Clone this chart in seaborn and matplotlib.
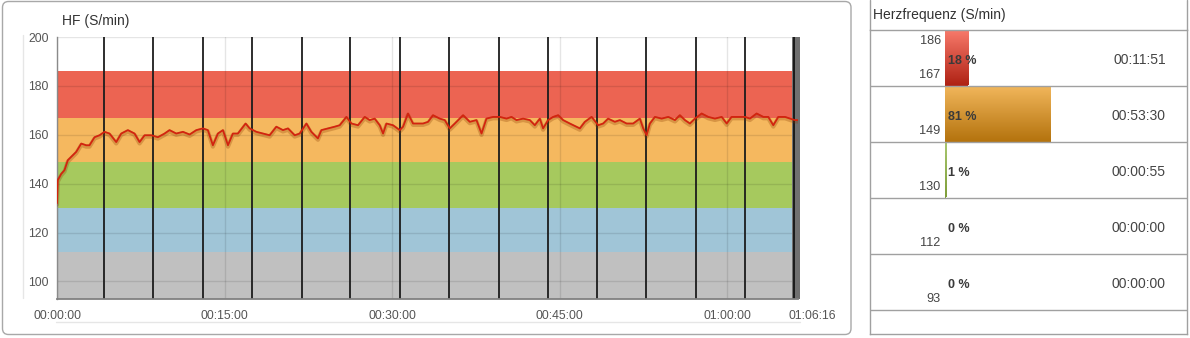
import numpy as np
import pandas as pd
import matplotlib
matplotlib.use("Agg")
import matplotlib.pyplot as plt
import matplotlib.patheffects as pe
from matplotlib.patches import FancyBboxPatch
from matplotlib.lines import Line2D
from matplotlib.transforms import ScaledTranslation
from matplotlib.colors import LinearSegmentedColormap
import seaborn as sns

# ---- heart-rate trace (minutes, beats/min) ----
time_min = [0.0, 0.07, 0.38, 0.67, 0.97, 1.41, 1.72, 2.17, 2.61, 2.91, 3.36, 3.81, 4.25,
            4.70, 5.30, 5.75, 6.34, 6.94, 7.39, 7.84, 8.44, 9.03, 9.63, 10.07, 10.67,
            11.27, 11.87, 12.47, 13.06, 13.50, 13.95, 14.40, 14.85, 15.30, 15.74, 16.19,
            16.88, 17.24, 17.84, 18.43, 19.03, 19.63, 20.22, 20.67, 21.27, 21.72, 22.32,
            22.76, 23.35, 23.66, 24.25, 24.85, 25.30, 25.90, 26.35, 26.94, 27.54, 27.98,
            28.43, 28.88, 29.18, 29.48, 30.07, 30.67, 30.97, 31.41, 31.86, 32.31, 32.76,
            33.21, 33.65, 34.25, 34.70, 35.15, 35.60, 36.34, 36.94, 37.54, 37.99, 38.43,
            39.03, 39.63, 40.23, 40.67, 41.12, 41.71, 42.31, 42.76, 43.21, 43.50, 43.95,
            44.40, 44.85, 45.29, 45.89, 46.49, 46.79, 47.24, 47.84, 48.43, 48.88, 49.32,
            49.92, 50.37, 50.97, 51.56, 52.16, 52.46, 52.76, 53.06, 53.51, 54.11, 54.70,
            55.30, 55.74, 56.19, 56.64, 57.09, 57.69, 58.28, 58.88, 59.48, 59.93, 60.37,
            60.97, 61.57, 62.01, 62.61, 63.21, 63.65, 64.10, 64.55, 65.15, 65.60, 66.04,
            66.27]
hr = [132, 141.4, 144, 145.5, 149.6, 151.6, 153, 156.4, 155.7, 155.7, 159, 159.8, 161.2,
      160.5, 157, 160.5, 161.9, 160.5, 157, 159.8, 159.8, 159, 160.5, 161.9, 160.5,
      161.2, 160.1, 161.9, 162.6, 161.9, 155.7, 160.5, 161.9, 155.7, 160.5, 160.5,
      164.6, 162.6, 161.2, 160.5, 159.8, 163.3, 161.9, 162.6, 159.8, 160.5, 164.6,
      161.2, 158.5, 161.9, 162.6, 163.3, 163.9, 167.3, 164.6, 163.9, 167.3, 166,
      166.6, 163.9, 160.5, 164.6, 163.9, 161.9, 163.3, 168.7, 164.6, 164.6, 164.6,
      165.3, 168, 166.6, 166, 162.6, 164.6, 168, 165.3, 166, 160.5, 166.6,
      167.3, 167.3, 166.6, 167.3, 166, 166.6, 166, 163.9, 166.6, 162.6, 166,
      167.3, 168, 166, 164.6, 163.3, 162.6, 165.3, 167.3, 163.9, 164.6, 166.6,
      165.3, 166, 164.6, 164.6, 166.6, 162.6, 159.8, 164.6, 167.3, 166.6, 167.3,
      166, 168, 166, 164.6, 166.6, 168.7, 167.3, 166.6, 167.3, 164.6, 167.3,
      167.3, 167.3, 166.6, 168.7, 167.3, 167.3, 163.9, 167.3, 167.3, 166.6, 166,
      166]

# lap markers (seconds) and total duration
lap_sec = [251, 518, 783, 1047, 1317, 1575, 1840, 2104, 2372, 2637, 2902, 3164, 3429, 3692, 3957]
total_sec = 3976

# heart-rate zones (bottom to top)
zone_bounds = [93, 112, 130, 149, 167, 186]
zone_colors = ["#c0c0c0", "#a0c5d7", "#a6c95e", "#f5b85f", "#ec6452"]

# zone summary table (top zone first)
zone_names = ["167-186", "149-167", "130-149", "112-130", "93-112"]
zone_pct = [18, 81, 1, 0, 0]
zone_time = ["00:11:51", "00:53:30", "00:00:55", "00:00:00", "00:00:00"]
grad_top = ["#f97b6c", "#f2b75c", "#a9c870", "#cccccc", "#cccccc"]
grad_bottom = ["#b02315", "#b5740f", "#7f9e3a", "#999999", "#999999"]

x_ticks_sec = [0, 900, 1800, 2700, 3600, 3976]
x_tick_labels = ["00:00:00", "00:15:00", "00:30:00", "00:45:00", "01:00:00", "01:06:16"]
y_ticks = [100, 120, 140, 160, 180, 200]

W, H = 1190, 338
sns.set_theme(style="white")
plt.rcParams["font.family"] = ["Liberation Sans", "DejaVu Sans"]

fig = plt.figure(figsize=(W / 100, H / 100), dpi=100)


def fx(px):
    return px / W


def fy(py):
    return 1 - py / H


# ================= left: heart-rate chart =================
ax = fig.add_axes([fx(57), fy(298.5), (797.5 - 57) / W, (298.5 - 37) / H])
for i in range(len(zone_colors)):
    ax.axhspan(zone_bounds[i], zone_bounds[i + 1], color=zone_colors[i], lw=0, zorder=0)

for t in lap_sec:
    ax.axvline(t, color="#1c1c1c", lw=1.3, zorder=2)
ax.axvspan(3946, 3992, color="#707070", lw=0, zorder=1.9, clip_on=False)
ax.axvline(lap_sec[-1], color="#1c1c1c", lw=1.3, zorder=2.1)

df_hr = pd.DataFrame({"sec": np.array(time_min) * 60, "hr": hr})
sns.lineplot(data=df_hr, x="sec", y="hr", ax=ax, color="#d2240f", lw=1.3, zorder=3,
             path_effects=[pe.SimpleLineShadow(offset=(0, -1.0), shadow_color="#8a3a00",
                                               alpha=0.28, linewidth=3.0),
                           pe.Normal()])

ax.set_xlim(0, total_sec)
ax.set_ylim(93, 200)
ax.set_xticks(x_ticks_sec, x_tick_labels)
ax.set_yticks(y_ticks)
ax.set_xlabel("")
ax.set_ylabel("")
ax.grid(True, color="black", alpha=0.1, lw=1)
ax.set_axisbelow(True)
ax.tick_params(length=0, labelsize=8.8, colors="#555555")
ax.tick_params(axis="x", pad=8)
ax.tick_params(axis="y", pad=6)
ax.get_xticklabels()[-1].set_transform(
    ax.get_xticklabels()[-1].get_transform() + ScaledTranslation(0.15, 0, fig.dpi_scale_trans))
for s in ["top", "right"]:
    ax.spines[s].set_visible(False)
ax.spines["left"].set_color("#8a8a8a")
ax.spines["left"].set_linewidth(1.0)
ax.spines["bottom"].set_color("#808080")
ax.spines["bottom"].set_linewidth(1.3)

fig.text(fx(62), fy(21), "HF (S/min)", fontsize=10, color="#333333", va="center", ha="left")

# faint guide lines around the chart
fig.add_artist(Line2D([fx(23.3), fx(23.3)], [fy(35), fy(298)], color="#e6e6e6", lw=1))
fig.add_artist(Line2D([fx(56), fx(800)], [fy(321.7), fy(321.7)], color="#e6e6e6", lw=1))

# rounded frame
fig.add_artist(FancyBboxPatch((0.025, 0.035), 8.485, 3.33,
                              boxstyle="round,pad=0,rounding_size=0.06",
                              transform=fig.dpi_scale_trans, fill=False,
                              ec="#a8a8a8", lw=1.0))

# ================= right: zone table =================
row_px = 56
ax2 = fig.add_axes([fx(869.5), fy(333.5), (1186.5 - 869.5) / W, (333.5 - 29.5) / H])
df_z = pd.DataFrame({"zone": zone_names, "pct": zone_pct})
sns.barplot(data=df_z, x="pct", y="zone", orient="h", width=1.0, ax=ax2,
            color="#cccccc", saturation=1, linewidth=0)

px_per_pct = 1.305
grad = np.linspace(0, 1, 64).reshape(-1, 1)
for i, bar in enumerate(ax2.patches):
    if bar.get_width() <= 0:
        continue
    cmap = LinearSegmentedColormap.from_list("g", [grad_top[i], grad_bottom[i]])
    bx, by = bar.get_x(), bar.get_y()
    bw, bh = bar.get_width(), bar.get_height()
    bar.set_facecolor(grad_bottom[i])
    im = ax2.imshow(grad, cmap=cmap, aspect="auto", extent=(bx, bx + bw, by + bh, by),
                    zorder=bar.get_zorder() + 0.1, interpolation="bilinear")
    im.set_clip_path(bar)
ax2.set_xlim(-(945 - 869.5) / px_per_pct, (1186.5 - 945) / px_per_pct)
ax2.set_ylim(-0.5 + (333.5 - 29.5) / row_px, -0.5)

for k in range(len(zone_names)):
    ax2.axhline(k + 0.5, color="#a0a0a0", lw=1, zorder=5)

x_lab = (940.7 - 945) / px_per_pct
for k, name in enumerate(zone_names):
    lo, hi = name.split("-")
    ax2.text(x_lab, k + 0.5 - 11 / row_px, lo, ha="right", va="center",
             fontsize=9.2, color="#444444")
    if k == 0:
        ax2.text(x_lab, k - 0.5 + 11.7 / row_px, hi, ha="right", va="center",
                 fontsize=9.2, color="#444444")
    ax2.text((948.3 - 945) / px_per_pct, k + 3 / row_px, f"{zone_pct[k]} %",
             ha="left", va="center", fontsize=9, fontweight="bold", color="#3a3a3a", zorder=6)
    ax2.text((1166 - 945) / px_per_pct, k + 3 / row_px, zone_time[k],
             ha="right", va="center", fontsize=10, color="#444444")

ax2.set_xticks([])
ax2.set_yticks([])
ax2.set_xlabel("")
ax2.set_ylabel("")
for s in ax2.spines.values():
    s.set_color("#a0a0a0")
    s.set_linewidth(1)

fig.add_artist(Line2D([fx(869.5), fx(869.5)], [fy(0), fy(29.5)], color="#a0a0a0", lw=1))
fig.add_artist(Line2D([fx(1186.5), fx(1186.5)], [fy(0), fy(29.5)], color="#a0a0a0", lw=1))
fig.text(fx(873), fy(15), "Herzfrequenz (S/min)", fontsize=10, color="#333333",
         va="center", ha="left")

fig.savefig("out.png", dpi=100)
